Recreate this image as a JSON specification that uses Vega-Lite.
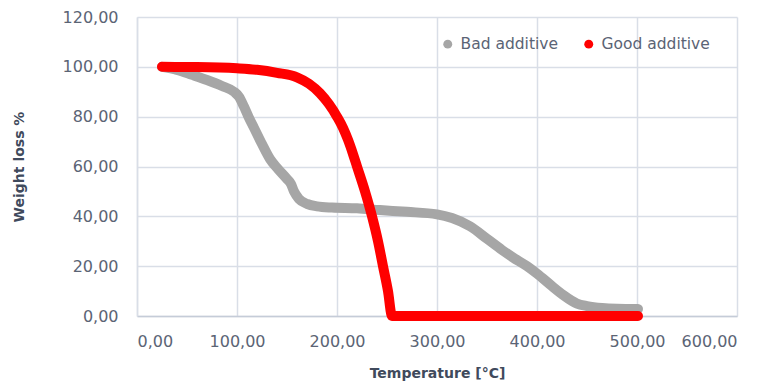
{
  "$schema": "https://vega.github.io/schema/vega-lite/v6.json",
  "width": 600,
  "height": 299,
  "autosize": {"type": "none"},
  "padding": {"left": 137, "top": 17, "right": 31, "bottom": 66},
  "background": "white",
  "config": {
    "view": {"stroke": null},
    "font": "DejaVu Sans"
  },
  "data": {
    "values": [
      {"series": "Bad additive", "t": 25, "w": 100},
      {"series": "Bad additive", "t": 40, "w": 98.8},
      {"series": "Bad additive", "t": 55, "w": 96.8},
      {"series": "Bad additive", "t": 70, "w": 94.7},
      {"series": "Bad additive", "t": 85, "w": 92.3},
      {"series": "Bad additive", "t": 97, "w": 90},
      {"series": "Bad additive", "t": 102, "w": 88},
      {"series": "Bad additive", "t": 107, "w": 84},
      {"series": "Bad additive", "t": 112, "w": 79.5},
      {"series": "Bad additive", "t": 117, "w": 75.5},
      {"series": "Bad additive", "t": 125, "w": 69},
      {"series": "Bad additive", "t": 133, "w": 63},
      {"series": "Bad additive", "t": 141, "w": 59},
      {"series": "Bad additive", "t": 150, "w": 55},
      {"series": "Bad additive", "t": 154, "w": 53},
      {"series": "Bad additive", "t": 157, "w": 50},
      {"series": "Bad additive", "t": 162, "w": 47},
      {"series": "Bad additive", "t": 170, "w": 45},
      {"series": "Bad additive", "t": 180, "w": 44},
      {"series": "Bad additive", "t": 195, "w": 43.5},
      {"series": "Bad additive", "t": 220, "w": 43.2},
      {"series": "Bad additive", "t": 243, "w": 42.5},
      {"series": "Bad additive", "t": 270, "w": 41.8},
      {"series": "Bad additive", "t": 300, "w": 40.8},
      {"series": "Bad additive", "t": 315, "w": 39.3},
      {"series": "Bad additive", "t": 333, "w": 36},
      {"series": "Bad additive", "t": 350, "w": 31},
      {"series": "Bad additive", "t": 365, "w": 26.5},
      {"series": "Bad additive", "t": 376, "w": 23.5},
      {"series": "Bad additive", "t": 390, "w": 20},
      {"series": "Bad additive", "t": 400, "w": 17},
      {"series": "Bad additive", "t": 415, "w": 12},
      {"series": "Bad additive", "t": 426, "w": 8.5},
      {"series": "Bad additive", "t": 440, "w": 5},
      {"series": "Bad additive", "t": 450, "w": 4},
      {"series": "Bad additive", "t": 465, "w": 3.2},
      {"series": "Bad additive", "t": 480, "w": 2.9},
      {"series": "Bad additive", "t": 501, "w": 2.8},
      {"series": "Good additive", "t": 25, "w": 100},
      {"series": "Good additive", "t": 60, "w": 99.9},
      {"series": "Good additive", "t": 100, "w": 99.4},
      {"series": "Good additive", "t": 120, "w": 98.8},
      {"series": "Good additive", "t": 140, "w": 97.6},
      {"series": "Good additive", "t": 160, "w": 95.8},
      {"series": "Good additive", "t": 172, "w": 93.2},
      {"series": "Good additive", "t": 183, "w": 89.4},
      {"series": "Good additive", "t": 192, "w": 85},
      {"series": "Good additive", "t": 200, "w": 80},
      {"series": "Good additive", "t": 206, "w": 75.5},
      {"series": "Good additive", "t": 211, "w": 70.7},
      {"series": "Good additive", "t": 216, "w": 65},
      {"series": "Good additive", "t": 220, "w": 60},
      {"series": "Good additive", "t": 228, "w": 50},
      {"series": "Good additive", "t": 235, "w": 40},
      {"series": "Good additive", "t": 241, "w": 30},
      {"series": "Good additive", "t": 246, "w": 20},
      {"series": "Good additive", "t": 251, "w": 10},
      {"series": "Good additive", "t": 255, "w": 0},
      {"series": "Good additive", "t": 300, "w": 0},
      {"series": "Good additive", "t": 400, "w": 0},
      {"series": "Good additive", "t": 501, "w": 0}
    ]
  },
  "mark": {"type": "line", "strokeWidth": 10, "strokeCap": "round", "strokeJoin": "round", "interpolate": "monotone"},
  "encoding": {
    "x": {
      "field": "t", "type": "quantitative",
      "scale": {"domain": [0, 600], "nice": false},
      "axis": {
        "title": "Temperature [°C]",
        "values": [0, 100, 200, 300, 400, 500, 600],
        "labelExpr": "replace(format(datum.value, '.2f'), '.', ',')",
        "labelFont": "DejaVu Sans", "labelFontSize": 16, "labelColor": "#5b6475",
        "labelPadding": 17, "ticks": false,
        "domainColor": "#c5ccd8", "domainWidth": 1.5,
        "grid": true, "gridColor": "#d9dee7", "gridWidth": 1.5,
        "titleFont": "DejaVu Sans", "titleFontSize": 14, "titleFontWeight": "bold", "titleColor": "#404a5c",
        "titlePadding": 17
      }
    },
    "y": {
      "field": "w", "type": "quantitative",
      "scale": {"domain": [0, 120], "nice": false},
      "axis": {
        "title": "Weight loss %",
        "values": [0, 20, 40, 60, 80, 100, 120],
        "labelExpr": "replace(format(datum.value, '.2f'), '.', ',')",
        "labelFont": "DejaVu Sans", "labelFontSize": 16, "labelColor": "#5b6475",
        "labelPadding": 19, "ticks": false,
        "domainColor": "#d9dee7", "domainWidth": 1.5,
        "grid": true, "gridColor": "#d9dee7", "gridWidth": 1.5,
        "titleFont": "DejaVu Sans", "titleFontSize": 14, "titleFontWeight": "bold", "titleColor": "#404a5c",
        "titlePadding": 36
      }
    },
    "color": {
      "field": "series", "type": "nominal",
      "scale": {"domain": ["Bad additive", "Good additive"], "range": ["#a6a6a6", "#ff0000"]},
      "legend": {
        "title": null,
        "orient": "none", "legendX": 303, "legendY": 19,
        "direction": "horizontal",
        "symbolType": "circle", "symbolSize": 80,
        "labelFont": "DejaVu Sans", "labelFontSize": 15.5, "labelColor": "#5b6475",
        "columnPadding": 23, "labelOffset": 5,
        "encode": {
          "symbols": {
            "update": {
              "fill": {"scale": "color", "field": "value"},
              "stroke": {"value": "transparent"},
              "strokeWidth": {"value": 0}
            }
          }
        }
      }
    }
  }
}
